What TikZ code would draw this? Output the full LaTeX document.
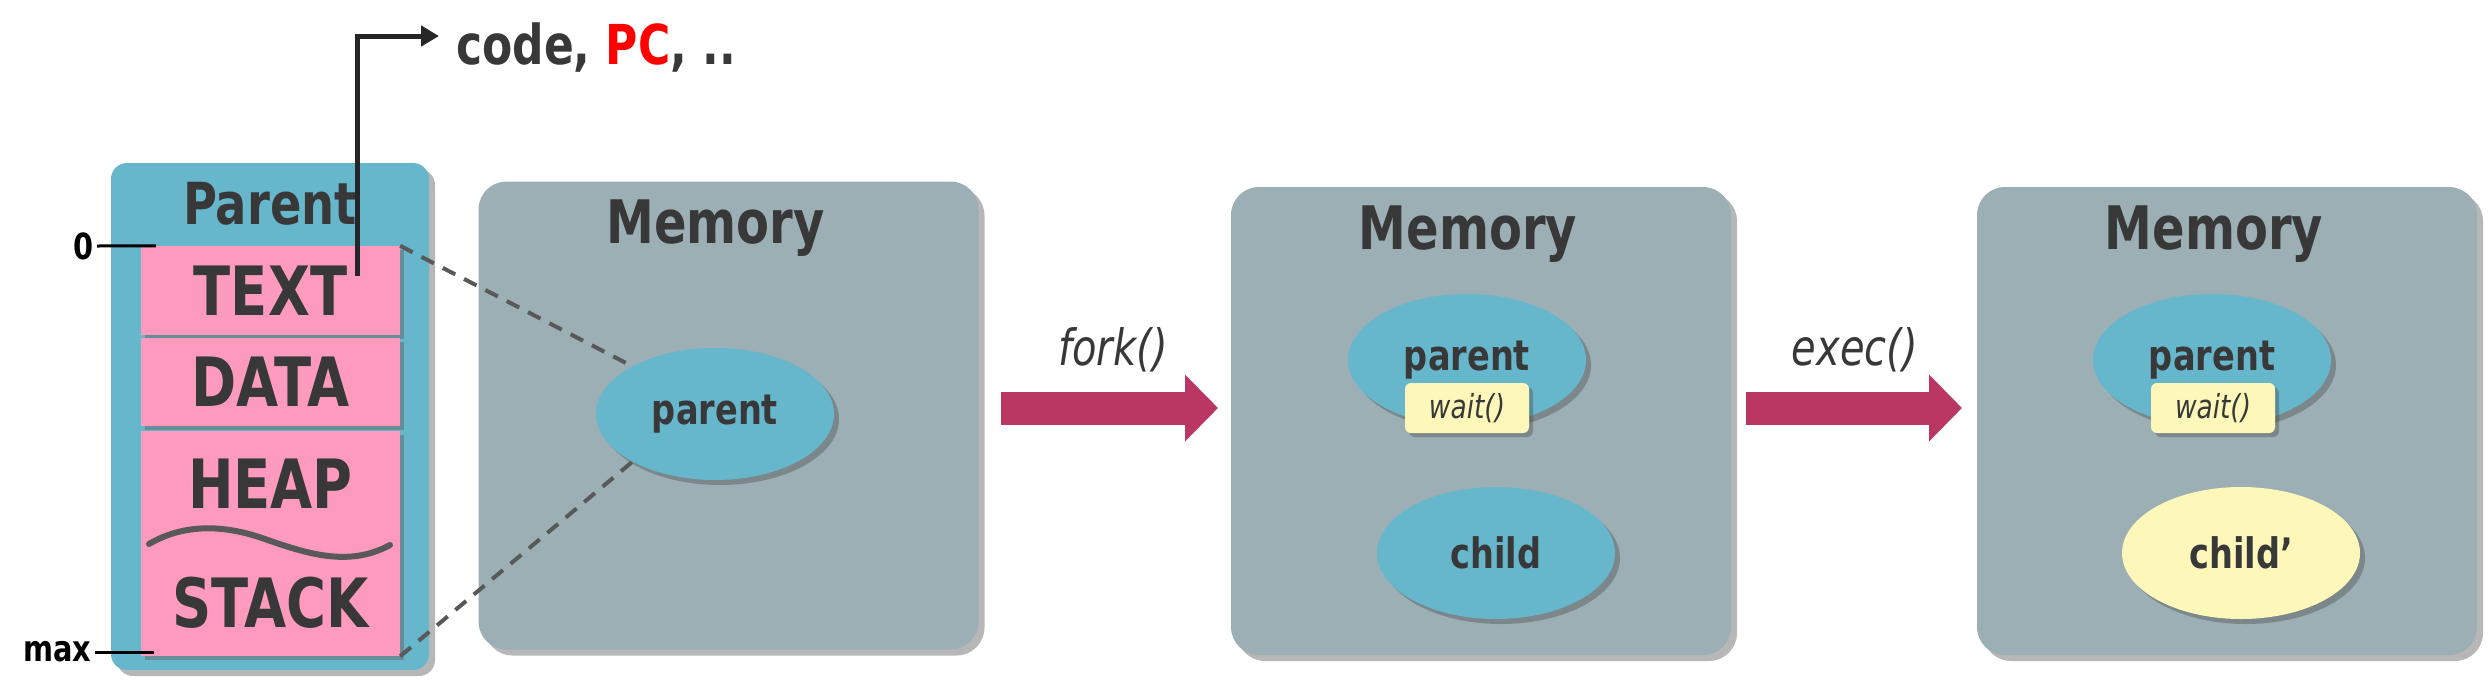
\documentclass[tikz,border=0pt]{standalone}
\usepackage{fontspec}
\setmainfont{DejaVu Sans}[FakeStretch=0.8]
\usetikzlibrary{shapes.geometric,shadows,arrows.meta}

\definecolor{procblue}{HTML}{66B6CC}
\definecolor{memgray}{HTML}{9BAFB4}
\definecolor{segpink}{HTML}{FD9ABD}
\definecolor{noteyellow}{HTML}{FDF8BA}
\definecolor{callred}{HTML}{B93762}
\definecolor{ink}{HTML}{383838}

\newcommand\fsz[1]{\fontsize{#1}{#1}\selectfont}

\tikzset{
  softshadow/.style = {drop shadow = {shadow xshift = #1, shadow yshift = -#1, opacity = .4, fill = black!70}},
  membox/.style   = {rounded corners = 28pt, fill = memgray, minimum width = 500pt, minimum height = 468pt, softshadow = 6pt},
  memtitle/.style = {text = ink, font = \fsz{60}\bfseries},
  proc/.style     = {ellipse, fill = #1, inner sep = 0pt, minimum width = 238pt, minimum height = 132pt,
                     text = ink, font = \fsz{42}\bfseries, softshadow = 5pt},
  waitnote/.style = {rounded corners = 6pt, fill = noteyellow, minimum width = 124pt, minimum height = 50pt,
                     text = ink, font = \fsz{33}\itshape, softshadow = 4pt},
  seg/.style      = {fill = segpink, minimum width = 259pt, inner sep = 0pt, text = ink, font = \fsz{68}\bfseries,
                     drop shadow = {shadow xshift = 4pt, shadow yshift = -4pt, opacity = .5, fill = black!60}},
  bigarrow/.style = {line width = 33pt, callred, -{Triangle[length = 33pt, width = 65pt]}},
  calllabel/.style= {text = ink, font = \fsz{50}\itshape}
}

\begin{document}
\begin{tikzpicture}[x = 1pt, y = -1pt]
\useasboundingbox (0,0) rectangle (2492,689);

% process image of the parent
\node[rounded corners = 16pt, fill = procblue, minimum width = 318pt, minimum height = 507pt, softshadow = 6pt] (proc) at (270,416.5) {};
\node[text = ink, font = \fsz{58}\bfseries] (proctitle) at (270,204) {Parent};

\foreach \name/\y/\h/\lbl in {textseg/290.5/89/TEXT, dataseg/382/88/DATA}
   \node[seg, minimum height = \h pt] (\name) at (270.5,\y) {\lbl};
\node[seg, minimum height = 225pt] (heapseg) at (270.5,543.5) {};
\node[text = ink, font = \fsz{68}\bfseries] (heap) at (270.5,484) {HEAP};
\node[text = ink, font = \fsz{68}\bfseries] (stack) at (270.5,603) {STACK};
\draw[line width = 6pt, black!65, line cap = round] (149,544) .. controls (178,527) and (215,522) .. (262,538) .. controls (305,553) and (348,568) .. (390,545);

% addresses
\node[anchor = east, font = \fsz{36}\bfseries] (zero) at (97,246) {0};
\draw[line width = 3pt] (zero.east) -- ([xshift = 15pt]textseg.north west);
\node[anchor = east, font = \fsz{36}\bfseries] (maxaddr) at (95,652) {max};
\draw[line width = 3pt] (maxaddr.east) -- ([xshift = 13pt]maxaddr.east -| heapseg.south west);

% what TEXT holds
\coordinate (pcsrc) at (357,276);
\node[anchor = base west, inner sep = 0pt, text = ink, font = \fsz{55}\bfseries] (code) at (456,64) {code, \textcolor{red}{PC}, ..};
\draw[line width = 5pt, black!85, -{Triangle[length = 18pt, width = 20pt]}] (pcsrc) |- ([xshift = -17pt, yshift = 11pt]code.west);

% the three memory states
\foreach \i/\x/\y in {1/728.5/415.5, 2/1481/421, 3/2227/421}{
   \node[membox] (mem\i) at (\x,\y) {};
   \node[memtitle] (memtitle\i) at ([xshift = -13pt, yshift = -47pt]mem\i.north) {Memory};
   }

\node[proc = procblue] (par1) at (715,414) {parent};
\draw[line width = 4pt, black!65, dash pattern = on 14pt off 10pt] (textseg.north east) -- (par1.150);
\draw[line width = 4pt, black!65, dash pattern = on 14pt off 10pt] (heapseg.south east) -- (par1.210);

\node[proc = procblue] (par2) at (1467,360) {\raisebox{8pt}{parent}};
\node[waitnote] (wait2) at (1467,408) {wait()};
\node[proc = procblue] (child2) at (1496,553) {child};

\node[proc = procblue] (par3) at (2212,360) {\raisebox{8pt}{parent}};
\node[waitnote] (wait3) at (2213,408) {wait()};
\node[proc = noteyellow] (child3) at (2241,553) {child'};

% system calls
\coordinate (fork s) at (1001,408);
\coordinate (fork e) at (1218,408);
\draw[bigarrow] (fork s) -- (fork e);
\node[calllabel] (forklbl) at (1113,350) {fork()};

\coordinate (exec s) at (1746,408);
\coordinate (exec e) at (1962,408);
\draw[bigarrow] (exec s) -- (exec e);
\node[calllabel] (execlbl) at (1855,350) {exec()};
\end{tikzpicture}
\end{document}
